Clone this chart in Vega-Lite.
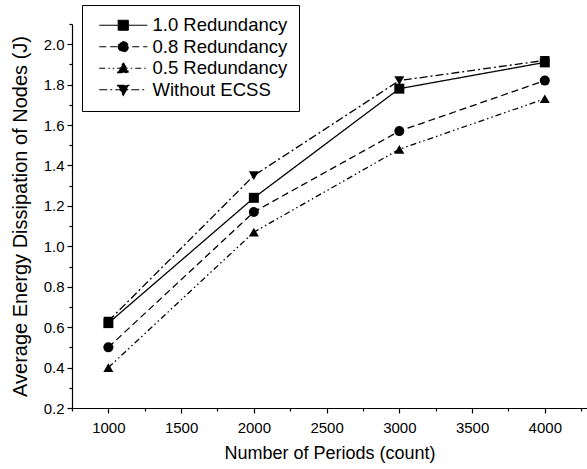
{
  "$schema": "https://vega.github.io/schema/vega-lite/v6.json",
  "width": 515,
  "height": 384,
  "autosize": "none",
  "padding": {"left": 72, "top": 24, "right": 0, "bottom": 61},
  "background": "white",
  "config": {
    "view": {"stroke": null},
    "font": "Liberation Sans",
    "axis": {"grid": false, "domainColor": "black", "tickColor": "black", "labelColor": "black", "titleColor": "black", "labelFont": "Liberation Sans", "titleFont": "Liberation Sans", "titleFontWeight": "normal", "domainWidth": 1.2, "tickWidth": 1.2}
  },
  "data": {
    "values": [
      {"period": 1000, "energy": 0.62, "series": "1.0 Redundancy"},
      {"period": 2000, "energy": 1.24, "series": "1.0 Redundancy"},
      {"period": 3000, "energy": 1.78, "series": "1.0 Redundancy"},
      {"period": 4000, "energy": 1.91, "series": "1.0 Redundancy"},
      {"period": 1000, "energy": 0.50, "series": "0.8 Redundancy"},
      {"period": 2000, "energy": 1.17, "series": "0.8 Redundancy"},
      {"period": 3000, "energy": 1.57, "series": "0.8 Redundancy"},
      {"period": 4000, "energy": 1.82, "series": "0.8 Redundancy"},
      {"period": 1000, "energy": 0.40, "series": "0.5 Redundancy"},
      {"period": 2000, "energy": 1.07, "series": "0.5 Redundancy"},
      {"period": 3000, "energy": 1.48, "series": "0.5 Redundancy"},
      {"period": 4000, "energy": 1.73, "series": "0.5 Redundancy"},
      {"period": 1000, "energy": 0.63, "series": "Without ECSS"},
      {"period": 2000, "energy": 1.35, "series": "Without ECSS"},
      {"period": 3000, "energy": 1.82, "series": "Without ECSS"},
      {"period": 4000, "energy": 1.92, "series": "Without ECSS"}
    ]
  },
  "encoding": {
    "x": {
      "field": "period", "type": "quantitative",
      "scale": {"domain": [750, 4290], "nice": false, "zero": false},
      "axis": {
        "title": "Number of Periods (count)", "titleFontSize": 18, "titlePadding": 9,
        "values": [750, 1000, 1250, 1500, 1750, 2000, 2250, 2500, 2750, 3000, 3250, 3500, 3750, 4000, 4250],
        "labelExpr": "datum.value % 500 == 0 ? format(datum.value, 'd') : ''",
        "labelFontSize": 15, "labelPadding": 7,
        "tickSize": {"condition": {"test": "datum.value % 500 == 0", "value": 5}, "value": 3},
        "labelFlush": false, "labelOverlap": false
      }
    },
    "y": {
      "field": "energy", "type": "quantitative",
      "scale": {"domain": [0.2, 2.1], "nice": false, "zero": false},
      "axis": {
        "title": "Average Energy Dissipation of Nodes (J)", "titleFontSize": 20, "titlePadding": 13,
        "values": [0.2, 0.3, 0.4, 0.5, 0.6, 0.7, 0.8, 0.9, 1.0, 1.1, 1.2, 1.3, 1.4, 1.5, 1.6, 1.7, 1.8, 1.9, 2.0, 2.1],
        "labelExpr": "round(datum.value * 10) % 2 == 0 ? format(datum.value, '.1f') : ''",
        "labelFontSize": 15, "labelPadding": 3,
        "tickSize": {"condition": {"test": "round(datum.value * 10) % 2 == 0", "value": 5}, "value": 3},
        "labelFlush": false, "labelOverlap": false
      }
    }
  },
  "layer": [
    {
      "mark": {"type": "line", "color": "black", "strokeWidth": 1.3},
      "encoding": {
        "strokeDash": {
          "field": "series", "type": "nominal",
          "scale": {"domain": ["1.0 Redundancy", "0.8 Redundancy", "0.5 Redundancy", "Without ECSS"], "range": [[1, 0], [7, 4], [6, 3, 1.5, 3, 1.5, 3], [8, 3, 2, 3]]},
          "legend": {
            "title": null,
            "orient": "none", "legendX": 10, "legendY": -19,
            "strokeColor": "black", "fillColor": "white", "padding": 11, "cornerRadius": 0,
            "labelFontSize": 18.5, "labelFont": "Liberation Sans", "labelColor": "black",
            "symbolSize": 256, "symbolOffset": 21, "labelOffset": 20, "rowPadding": 2.5,
            "symbolFillColor": "black", "symbolStrokeColor": "black", "symbolStrokeWidth": 1.2, "symbolOpacity": 1,
            "symbolType": {"expr": "datum.value === '1.0 Redundancy' ? 'M-3,0H3M-0.625,-0.625H0.625V0.625H-0.625Z' : datum.value === '0.8 Redundancy' ? 'M-3,0H3M0.625,0A0.625,0.625,0,1,1,-0.625,0A0.625,0.625,0,1,1,0.625,0Z' : datum.value === '0.5 Redundancy' ? 'M-3,0H3M0,-0.7L0.7,0.55L-0.7,0.55Z' : 'M-3,0H3M0,0.7L0.7,-0.55L-0.7,-0.55Z'"}
          }
        }
      }
    },
    {
      "mark": {"type": "point", "filled": true, "color": "black", "size": 100, "opacity": 1},
      "encoding": {
        "shape": {
          "field": "series", "type": "nominal",
          "scale": {"domain": ["Without ECSS", "1.0 Redundancy", "0.8 Redundancy", "0.5 Redundancy"], "range": ["triangle-down", "square", "circle", "triangle-up"]},
          "legend": null
        }
      }
    }
  ]
}
